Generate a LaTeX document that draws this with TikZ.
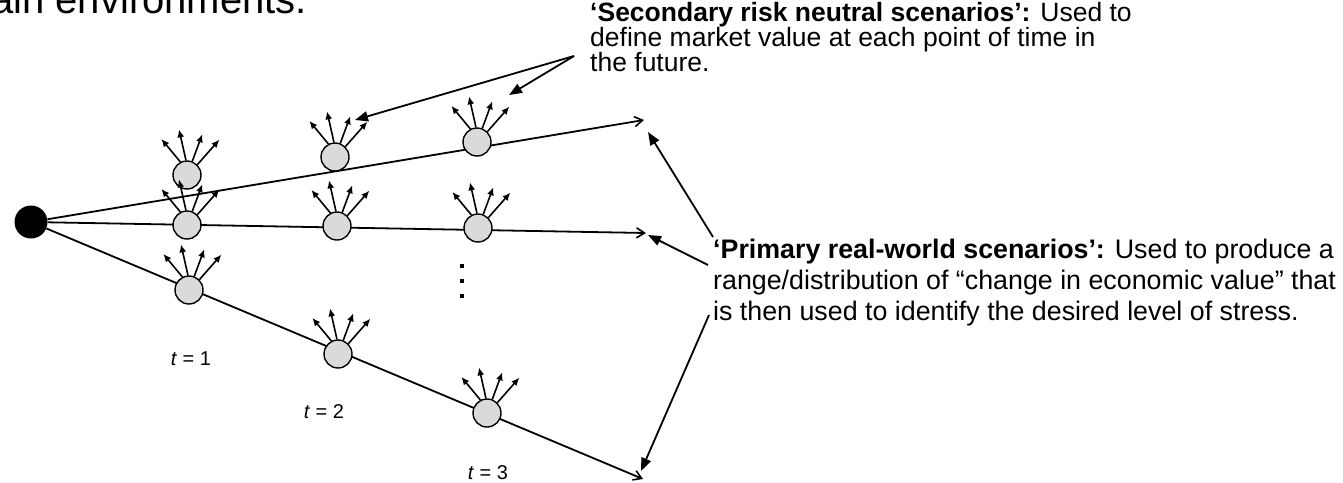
\documentclass[tikz,border=0pt]{standalone}
\usepackage{fontspec}
\setmainfont{Liberation Sans}
\usetikzlibrary{arrows.meta}
\definecolor{nodegray}{RGB}{218,218,218}
\begin{document}
\begin{tikzpicture}[x=1pt,y=-1pt,
  state/.style={circle,draw=black,line width=1.4pt,fill=nodegray,minimum size=28pt,inner sep=0pt},
  rootnode/.style={circle,fill=black,minimum size=33pt,inner sep=0pt},
  branch/.style={line width=1.8pt,-{Straight Barb[length=8pt,width=10pt,line width=1.6pt]}},
  note/.style={line width=1.8pt,-{Triangle[length=13pt,width=10pt]}},
  fan/.style={line width=1.6pt,-{Latex[length=8pt,width=7pt]}},
  notetext/.style={align=left,inner sep=0pt,anchor=base west},
  tlabel/.style={font=\fontsize{20}{22}\selectfont,inner sep=0pt,anchor=base},
  dotsq/.style={rectangle,fill=black,minimum size=4.5pt,inner sep=0pt}
]
\useasboundingbox (0,0) rectangle (1343,482);

% heading fragment
\node[anchor=base west,font=\fontsize{40}{48}\selectfont,inner sep=0pt] (heading) at (-9,13) {ain environments.};

% scenario tree
\node[rootnode] (root) at (31,222) {};
\coordinate (topend) at (644,120);
\coordinate (midend) at (646,233);
\coordinate (lowend) at (643,479);
\draw[branch] (root) -- (topend);
\draw[branch] (root) -- (midend);
\draw[branch] (root) -- (lowend);

\node[state] (a1) at (187,175) {};
\node[state] (a2) at (335,157) {};
\node[state] (a3) at (477,142) {};
\node[state] (b1) at (187,225) {};
\node[state] (b2) at (337,226) {};
\node[state] (b3) at (478,228) {};
\node[state] (c1) at (189,290) {};
\node[state] (c2) at (338,354) {};
\node[state] (c3) at (487,413) {};

% risk neutral fans above every node
\foreach \n in {a1,a2,a3,b1,b2,b3,c1,c2,c3}{
  \draw[fan] (\n.117) -- ++(-19,-23);
  \draw[fan] (\n.94) -- ++(-7,-31);
  \draw[fan] (\n.69) -- ++(10,-27);
  \draw[fan] (\n.45) -- ++(22,-25);
}

% vertical ellipsis
\node[dotsq] (d1) at (462,266) {};
\node[dotsq] (d2) at (462,281) {};
\node[dotsq] (d3) at (462,296) {};

% time labels
\node[tlabel] (t1) at (191,365) {\textit{t} = 1};
\node[tlabel] (t2) at (324,418) {\textit{t} = 2};
\node[tlabel] (t3) at (488,479) {\textit{t} = 3};

% annotations (the base anchor sits on the last line)
\node[notetext,font=\fontsize{26.5}{25}\selectfont] (sec) at (590,71) {\textbf{‘Secondary risk neutral scenarios’:} Used to\\define market value at each point of time in\\the future.};
\node[notetext,font=\fontsize{26.8}{31}\selectfont] (prim) at (713,320) {\textbf{‘Primary real-world scenarios’:} Used to produce a\\range/distribution of “change in economic value” that\\is then used to identify the desired level of stress.};

\coordinate (secfrom) at (574,56);
\coordinate (secto1) at (355,120);
\coordinate (secto2) at (509,95);
\draw[note] (secfrom) -- (secto1);
\draw[note] (secfrom) -- (secto2);

\coordinate (pfrom1) at (713,237);
\coordinate (pfrom2) at (708,265);
\coordinate (pfrom3) at (709,315);
\coordinate (pto1) at (648,132);
\coordinate (pto2) at (648,235);
\coordinate (pto3) at (641,471);
\draw[note] (pfrom1) -- (pto1);
\draw[note] (pfrom2) -- (pto2);
\draw[note] (pfrom3) -- (pto3);
\end{tikzpicture}
\end{document}
